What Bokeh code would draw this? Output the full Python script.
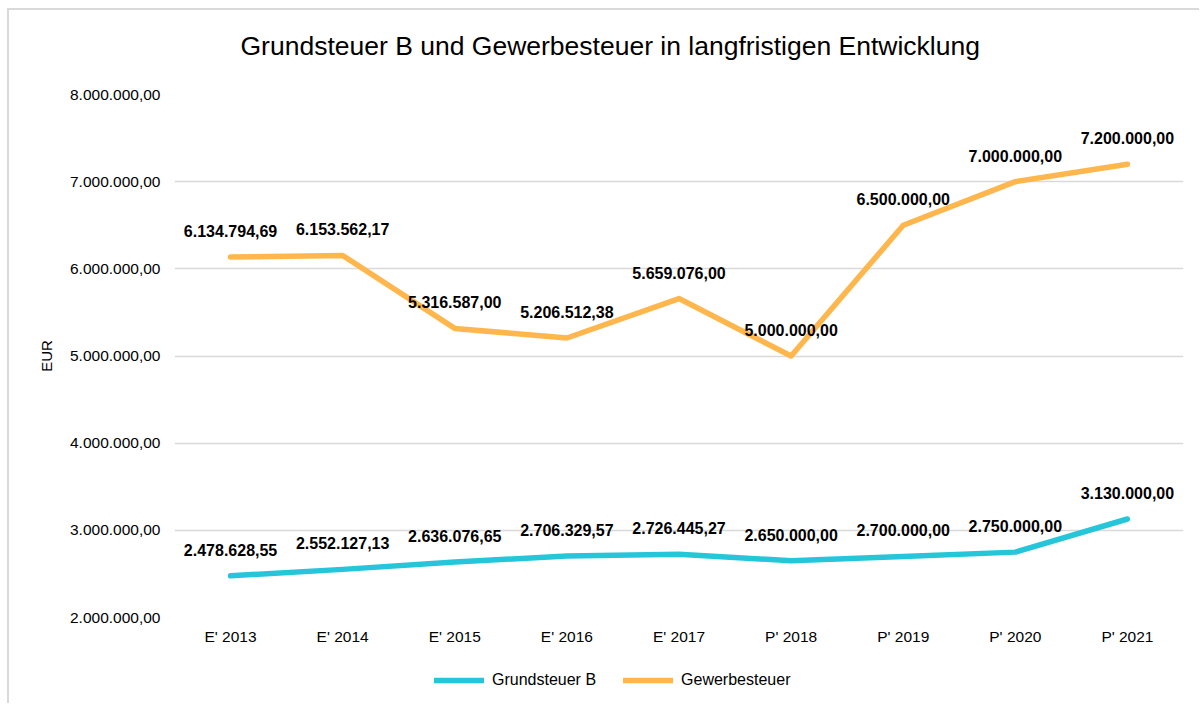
from bokeh.plotting import figure
from bokeh.layouts import column
from bokeh.models import (ColumnDataSource, FactorRange, Range1d, LabelSet, Legend,
                          LegendItem, FixedTicker, CustomJSTickFormatter, Label)
from bokeh.core.properties import value
from bokeh.embed import file_html
from bokeh.resources import INLINE

categories = ["E' 2013", "E' 2014", "E' 2015", "E' 2016", "E' 2017",
              "P' 2018", "P' 2019", "P' 2020", "P' 2021"]
grundsteuer_b = [2478628.55, 2552127.13, 2636076.65, 2706329.57, 2726445.27,
                 2650000.00, 2700000.00, 2750000.00, 3130000.00]
gewerbesteuer = [6134794.69, 6153562.17, 5316587.00, 5206512.38, 5659076.00,
                 5000000.00, 6500000.00, 7000000.00, 7200000.00]
y_ticks = [2000000, 3000000, 4000000, 5000000, 6000000, 7000000, 8000000]
series_names = ["Grundsteuer B", "Gewerbesteuer"]
title_text = "Grundsteuer B und Gewerbesteuer in langfristigen Entwicklung"

FONT = "Liberation Sans"
C_GRUND = "#26C6DA"
C_GEW = "#FFB74D"
W = 1190
BL, BR = 165, 16          # left / right borders (frames aligned in the column)
FRAME_W = W - BL - BR


def de_fmt(v):
    s = f"{v:,.2f}"
    return s.replace(",", "X").replace(".", ",").replace("X", ".")


def strip(height, x_range, y_range):
    f = figure(width=W, height=height, output_backend="svg", toolbar_location=None,
               x_range=x_range, y_range=y_range, x_axis_type=None, y_axis_type=None,
               min_border_left=BL, min_border_right=BR, min_border_top=0,
               min_border_bottom=0)
    f.outline_line_color = None
    f.xgrid.grid_line_color = None
    f.ygrid.grid_line_color = None
    return f


# ---- title strip
pt = strip(74, Range1d(0, FRAME_W), Range1d(0, 74))
pt.add_layout(Label(x=66, y=39, text=title_text, text_font=FONT,
                    text_font_size="26.5px", text_baseline="middle",
                    text_align="left", text_color="#000000"))

# ---- main chart
src_g = ColumnDataSource(dict(x=categories, y=grundsteuer_b,
                              lbl=[de_fmt(v) for v in grundsteuer_b]))
src_w = ColumnDataSource(dict(x=categories, y=gewerbesteuer,
                              lbl=[de_fmt(v) for v in gewerbesteuer]))

p = figure(width=W, height=573, output_backend="svg", toolbar_location=None,
           x_range=FactorRange(*categories, range_padding=0),
           y_range=Range1d(2000000, 8000000),
           min_border_left=BL, min_border_right=BR, min_border_top=10,
           min_border_bottom=40)

p.outline_line_color = None
p.background_fill_color = "white"
p.border_fill_color = "white"

p.xgrid.grid_line_color = None
p.ygrid.grid_line_color = "#d9d9d9"
p.ygrid.grid_line_width = 1.5
p.yaxis.ticker = FixedTicker(ticks=y_ticks)
p.yaxis.formatter = CustomJSTickFormatter(code="""
    const s = Math.round(tick).toString().replace(/\\B(?=(\\d{3})+(?!\\d))/g, '.');
    return s + ',00';
""")

for ax in (p.xaxis[0], p.yaxis[0]):
    ax.axis_line_color = None
    ax.major_tick_line_color = None
    ax.minor_tick_line_color = None
    ax.major_tick_out = 0
    ax.major_tick_in = 0
    ax.minor_tick_out = 0
    ax.major_label_text_font = FONT
    ax.major_label_text_font_size = "15.5px"
    ax.major_label_text_color = "#000000"

p.yaxis.major_label_standoff = 14
p.xaxis.major_label_standoff = 10
p.yaxis.axis_label = "EUR"
p.yaxis.axis_label_text_font = FONT
p.yaxis.axis_label_text_font_size = "15px"
p.yaxis.axis_label_text_font_style = "normal"
p.yaxis.axis_label_text_color = "#000000"
p.yaxis.axis_label_standoff = 12

r_g = p.line("x", "y", source=src_g, line_color=C_GRUND, line_width=5.5,
             line_cap="round", line_join="round")
r_w = p.line("x", "y", source=src_w, line_color=C_GEW, line_width=5.5,
             line_cap="round", line_join="round")

for src in (src_g, src_w):
    ls = LabelSet(x="x", y="y", text="lbl", source=src, y_offset=26,
                  text_align="center", text_baseline="middle",
                  text_font=value(FONT), text_font_size=value("16px"),
                  text_font_style=value("bold"), text_color="#000000")
    p.add_layout(ls)

# ---- legend strip below the chart (lines lie out of view, only the legend shows)
pl = strip(46, FactorRange(*categories, range_padding=0), Range1d(-2, -1))
lg_g = pl.line(categories, grundsteuer_b, line_color=C_GRUND, line_width=5.5,
               line_cap="round")
lg_w = pl.line(categories, gewerbesteuer, line_color=C_GEW, line_width=5.5,
               line_cap="round")
legend = Legend(items=[LegendItem(label=series_names[0], renderers=[lg_g]),
                       LegendItem(label=series_names[1], renderers=[lg_w])],
                orientation="horizontal", location=(260, 13),
                glyph_width=50, glyph_height=20, label_height=20,
                label_standoff=8, spacing=27,
                label_text_font=FONT, label_text_font_size="16px",
                label_text_color="#000000", label_text_baseline="middle",
                border_line_color=None, background_fill_alpha=0,
                margin=0, padding=0)
pl.add_layout(legend, "center")

layout = column(pt, p, pl, spacing=0,
                styles={"margin-left": "7px", "margin-top": "8px",
                        "border-left": "2px solid #d9d9d9",
                        "border-top": "2px solid #d9d9d9",
                        "background-color": "white"})

open("out.html", "w").write(file_html(layout, INLINE))
